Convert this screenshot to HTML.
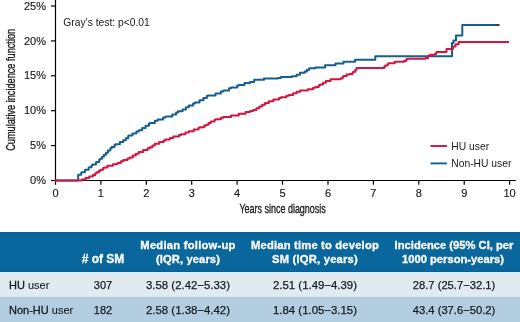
<!DOCTYPE html>
<html><head><meta charset="utf-8"><style>
html,body{margin:0;padding:0;background:#fff;}
body{width:520px;height:322px;position:relative;overflow:hidden;font-family:"Liberation Sans",sans-serif;-webkit-font-smoothing:antialiased;}
.th,.td{will-change:transform;}
.hdr{position:absolute;left:0;top:232px;width:520px;height:40px;background:#0a679d;}
.r1{position:absolute;left:0;top:272px;width:520px;height:25px;background:#e0eaef;}
.r2{position:absolute;left:0;top:297px;width:520px;height:25px;background:#b2cee0;}
.th{position:absolute;width:200px;text-align:center;color:#fff;font-weight:bold;font-size:11.2px;line-height:14px;white-space:nowrap;-webkit-text-stroke:0.3px #fff;}
.td{position:absolute;color:#161c22;font-size:11px;line-height:13px;white-space:nowrap;-webkit-text-stroke:0.1px #161c22;}
.td.n{font-size:11.4px;}
.b{-webkit-text-stroke:0.3px #161c22;}
.c{-webkit-text-stroke:0.25px #161c22;}
.c{width:200px;text-align:center;}
</style></head><body>
<svg width="520" height="232" viewBox="0 0 520 232" style="position:absolute;left:0;top:0;will-change:transform">
<g stroke="#000" stroke-width="1.2" fill="none">
<path d="M55.5,0V180.5H515.8"/>
<path d="M55.5,180.5V184.8"/>
<path d="M100.9,180.5V184.8"/>
<path d="M146.3,180.5V184.8"/>
<path d="M191.7,180.5V184.8"/>
<path d="M237.1,180.5V184.8"/>
<path d="M282.5,180.5V184.8"/>
<path d="M328.0,180.5V184.8"/>
<path d="M373.4,180.5V184.8"/>
<path d="M418.8,180.5V184.8"/>
<path d="M464.2,180.5V184.8"/>
<path d="M509.6,180.5V184.8"/>
<path d="M51,180.5H55.5"/>
<path d="M51,145.6H55.5"/>
<path d="M51,110.7H55.5"/>
<path d="M51,75.8H55.5"/>
<path d="M51,40.9H55.5"/>
<path d="M51,6.0H55.5"/>
</g>
<path d="M55.0,180.4H78.2V174.8H81.2V172.7H81.7V172.3H85.0V170.0H85.5V169.7H88.7V167.6H89.2V167.3H91.6V165.2H92.6V164.4H96.0V162.2H96.5V161.9H99.2V159.6H100.1V158.8H102.0V156.8H104.0V154.8H104.0H106.0V152.7H107.9V150.6H107.9H110.3V148.3H111.7V147.0H114.5V144.9H115.5V144.2H119.9V142.0H123.3V140.3H125.8V138.2H128.2V136.0H128.7V135.6H132.5V133.5H136.4V131.5H138.8V130.2H142.2V128.0H145.6V125.8H149.0V123.6H150.0V123.0H154.9V120.8H157.8V119.5H163.1V117.4H165.5V116.4H172.3V114.4H173.3H176.1V112.4H178.0V111.2H182.6V109.4H185.9V107.3H188.8V105.5H193.1V103.4H195.0V102.4H199.5V100.3H200.0H203.4V98.1H206.8V96.1H207.8V95.5H215.5V93.6H220.9V91.5H223.3V90.5H229.1V88.3H231.0V87.6H237.3V85.6H238.8V85.1H244.5V83.0H245.0H250.0V81.9H254.2V79.8H254.7H264.0V78.4H278.0V77.9H281.0V76.9H292.0V76.3H296.6V74.8H300.0V72.8H300.0H304.7V71.4H307.0V69.8H309.3V68.3H315.5V67.5H325.0V65.3H335.5V63.6H343.5V63.3V61.7H355.1V59.7H375.3V56.3H452.0V43.0H453.5V40.5H456.0V35.5H462.3V25.0H498.0" fill="none" stroke="#145f8f" stroke-width="2" stroke-linejoin="round" stroke-linecap="butt"/>
<path d="M55.0,180.4H78.5H81.7V179.4H85.5V177.9H89.2V176.4H92.9V174.9H95.3V173.3H96.7V172.3H99.0V170.7H100.4V169.7H103.2V168.1H104.1V167.5H107.5V165.8H108.0H112.9V164.2H117.4V163.0H120.8V161.2H123.3V160.0H127.5V158.4H129.8V157.5H132.8V155.6H135.8V153.8H138.8V151.9H138.8H143.2V150.1H147.6V148.3H150.0V147.3H152.4V145.6H154.9V143.8H154.9H159.2V142.1H163.6V140.4H165.5V139.6H169.9V137.9H173.3V136.6H179.1V134.9H181.0V134.3H185.4V132.6H188.8V131.2H193.7V129.5H198.5V127.8H200.0V127.3H204.3V125.6H206.2V124.8H208.6V123.1H210.9V121.5H210.9H214.6V119.7H215.5V119.3H220.9V117.7H223.3V116.9H231.0V115.4H238.8V113.8H238.8H245.6V112.1H250.0V111.0H253.1V110.0H256.4V108.2H259.3V106.6H262.2V104.8H265.0V103.0H265.5H268.9V101.3H273.3V99.6H273.3H279.1V97.9H281.0V97.3H286.4V95.7H288.8V94.9H293.2V93.2H296.6V91.8H300.0V90.6H307.8V89.3H313.1V87.7H315.5V86.9H318.8V85.3H320.2V84.6H323.1V82.8H325.9V81.0H326.4H330.5V79.3H331.0H340.4V78.4H342.6V76.8H343.5V76.1H346.6V74.5H349.7V74.0H352.6V72.3H353.5V71.8H355.3V69.7H356.6V68.1H381.5H384.4V66.2H385.4V65.6H387.6V64.0H388.5V63.3H390.0H394.7V61.8H404.0V61.0H406.2V59.4H407.1V58.7H425.7V58.0H428.1V56.0H429.6V54.8H435.0V54.1H436.2V52.4H436.6V51.9H446.5V49.1H453.0V46.6H455.5V44.2H458.6V42.0H509.0" fill="none" stroke="#d3163f" stroke-width="2" stroke-linejoin="round" stroke-linecap="butt"/>
<g font-family="Liberation Sans" font-size="11" fill="#1a1a1a" stroke="#1a1a1a" stroke-width="0.15" text-anchor="middle">
<text x="55.5" y="197">0</text>
<text x="100.9" y="197">1</text>
<text x="146.3" y="197">2</text>
<text x="191.7" y="197">3</text>
<text x="237.1" y="197">4</text>
<text x="282.5" y="197">5</text>
<text x="328.0" y="197">6</text>
<text x="373.4" y="197">7</text>
<text x="418.8" y="197">8</text>
<text x="464.2" y="197">9</text>
<text x="509.6" y="197">10</text>
</g>
<g font-family="Liberation Sans" font-size="11" fill="#1a1a1a" stroke="#1a1a1a" stroke-width="0.15" text-anchor="end">
<text x="46" y="184.1">0%</text>
<text x="46" y="149.2">5%</text>
<text x="46" y="114.3">10%</text>
<text x="46" y="79.4">15%</text>
<text x="46" y="44.5">20%</text>
<text x="46" y="9.6">25%</text>
</g>
<text font-family="Liberation Sans" font-size="13.2" fill="#1a1a1a" stroke="#1a1a1a" stroke-width="0.35" text-anchor="middle" transform="translate(282.6,212.8) scale(0.68,1)">Years since diagnosis</text>
<text font-family="Liberation Sans" font-size="13.2" fill="#1a1a1a" stroke="#1a1a1a" stroke-width="0.35" text-anchor="middle" transform="translate(14.9,89.8) rotate(-90) scale(0.696,1)">Cumulative incidence function</text>
<text x="63.3" y="26.1" font-family="Liberation Sans" font-size="10.3" fill="#1a1a1a">Gray’s test: p&lt;0.01</text>
<path d="M430.5,146H446.9" stroke="#c8153f" stroke-width="1.9"/>
<path d="M430.5,163.4H446.9" stroke="#145f8f" stroke-width="1.9"/>
<path d="M495.5,25H499.5" stroke="#2e4050" stroke-width="2"/>
<text x="451.3" y="149.8" font-family="Liberation Sans" font-size="10.3" fill="#1a1a1a">HU user</text>
<text x="451.3" y="166.8" font-family="Liberation Sans" font-size="10.3" fill="#1a1a1a">Non-HU user</text>
</svg>

<div class="hdr"></div>
<div class="r1"></div>
<div class="r2"></div>
<div style="position:absolute;left:0;top:232px;width:520px;height:1px;background:#0a5e90"></div>
<div style="position:absolute;left:0;top:271px;width:520px;height:1px;background:#0a5e90"></div>
<div style="position:absolute;left:0;top:272px;width:520px;height:1.5px;background:#d8eef7"></div>
<div style="position:absolute;left:0;top:297px;width:520px;height:1px;background:#abc9dc"></div>
<div class="th" style="left:3px;top:251.6px;font-size:12px">#&nbsp;of&nbsp;SM</div>
<div class="th" style="left:88px;top:237.6px;letter-spacing:0.25px">Median follow-up</div>
<div class="th" style="left:88px;top:251.6px;letter-spacing:0.1px">(IQR, years)</div>
<div class="th" style="left:214.8px;top:237.6px;letter-spacing:0.19px">Median time to develop</div>
<div class="th" style="left:214.8px;top:251.6px;letter-spacing:0.22px">SM (IQR, years)</div>
<div class="th" style="left:353.8px;top:237.6px">Incidence (95% CI, per</div>
<div class="th" style="left:353px;top:251.6px">1000 person-years)</div>
<div class="td" style="left:9.2px;top:279px;text-align:left"><span class="b">HU</span> user</div>
<div class="td c" style="left:2.9px;top:279px">307</div>
<div class="td c n" style="left:88px;top:279px">3.58 (2.42−5.33)</div>
<div class="td c n" style="left:215px;top:279px">2.51 (1.49−4.39)</div>
<div class="td c n" style="left:354.2px;top:279px;font-size:11.2px">28.7 (25.7−32.1)</div>
<div class="td" style="left:9.2px;top:303.5px;text-align:left"><span class="b">Non-HU</span> user</div>
<div class="td c" style="left:2.9px;top:303.5px">182</div>
<div class="td c n" style="left:88px;top:303.5px">2.58 (1.38−4.42)</div>
<div class="td c n" style="left:215px;top:303.5px">1.84 (1.05−3.15)</div>
<div class="td c n" style="left:354.2px;top:303.5px;font-size:11.2px">43.4 (37.6−50.2)</div>

</body></html>
